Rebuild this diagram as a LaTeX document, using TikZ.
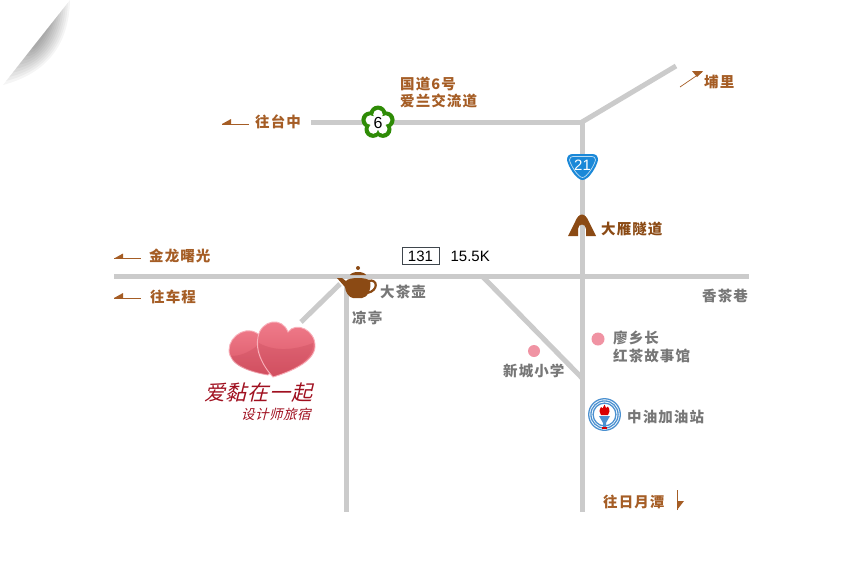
\documentclass[tikz,border=0pt]{standalone}
\usepackage{fontspec}
\setmainfont{Noto Sans CJK SC}[LetterSpace=7.5]
\newfontfamily\slantcjk[FakeSlant=0.25,LetterSpace=3.5]{Noto Sans CJK SC}
\newfontfamily\latinfont{Liberation Sans}
\usetikzlibrary{positioning}
\definecolor{roadgray}{HTML}{CBCBCB}
\definecolor{labelbrown}{HTML}{A55D25}
\definecolor{darkbrown}{HTML}{8B4A14}
\definecolor{labelgray}{HTML}{777777}
\definecolor{dotpink}{HTML}{F093A3}
\definecolor{shieldblue}{HTML}{1A88D8}
\definecolor{ringblue}{HTML}{4A90D0}
\definecolor{flowergreen}{HTML}{2E8B06}
\definecolor{heartred}{HTML}{A01020}
\definecolor{heartrim}{HTML}{F8B0BA}
\definecolor{heartlight}{HTML}{F27F8E}
\definecolor{heartdeep}{HTML}{D95565}
\definecolor{heartshade}{HTML}{B83A4C}
\tikzset{
  road/.style={line width=5pt, roadgray},
  pointer/.style={line width=0.7pt, labelbrown},
  pointertip/.style={fill=labelbrown},
  brownlabel/.style={anchor=west, inner sep=0pt, labelbrown, font=\fontsize{14.5}{14.5}\selectfont\bfseries},
  graylabel/.style={anchor=west, inner sep=0pt, labelgray, font=\fontsize{14.5}{14.5}\selectfont\bfseries},
  spotdot/.style={fill=dotpink},
  plainno/.style={inner sep=0pt, font=\latinfont\fontsize{15}{15}\selectfont},
  heartbody/.style={draw=heartrim, line width=0.9pt, top color=heartlight, bottom color=heartdeep},
  heartgloss/.style={fill=heartshade, opacity=0.22},
}
\begin{document}
\begin{tikzpicture}[x=1pt, y=-1pt]
\useasboundingbox (0, 0) rectangle (851, 560);

\foreach \k in {0, ..., 9}
  \fill [black, opacity=0.04] ({70-\k*2.2}, {\k*2.8}) .. controls ({47.7-\k*0.6+(27-\k*2.6)*0.79}, {28.3+\k*0.6+(27-\k*2.6)*0.62})
    and ({25.3+\k*0.6+(27-\k*2.6)*0.79}, {56.7-\k*0.6+(27-\k*2.6)*0.62}) .. ({3+\k*3.2}, {85-\k*4.1}) -- cycle;

\coordinate (top_w) at (311, 122);
\coordinate (top_e) at (582, 122);
\coordinate (puli_end) at (676, 66);
\coordinate (main_s) at (582, 512);
\coordinate (mid_w) at (114, 276);
\coordinate (mid_e) at (749, 276);
\coordinate (side_n) at (346, 282);
\coordinate (side_s) at (346, 512);
\coordinate (inn_a) at (340, 284);
\coordinate (inn_b) at (301, 322);
\coordinate (cut_a) at (483, 277);
\coordinate (cut_b) at (582, 378);

\draw [road] (top_w) -- (top_e) -- (main_s);
\draw [road] (top_e) -- (puli_end);
\draw [road] (mid_w) -- (mid_e);
\draw [road] (side_n) -- (side_s);
\draw [road] (inn_a) -- (inn_b);
\draw [road] (cut_a) -- (cut_b);

\coordinate (flower) at (378, 122.5);
\foreach \a in {-90, -18, 54, 126, 198}
  \fill [flowergreen] (flower) ++(\a:8.5) circle [radius=8.5pt];
\foreach \a in {-90, -18, 54, 126, 198}
  \fill [white] (flower) ++(\a:8) circle [radius=4.8pt];
\fill [white] (flower) circle [radius=7.8pt];
\node [inner sep=0pt, font=\latinfont\fontsize{16}{16}\selectfont] (flower_no) at (flower) {6};

\fill [shieldblue] (567, 160) .. controls (567, 156) and (569, 154) .. (573, 154) -- (592, 154) .. controls (596, 154) and (598, 156) .. (598, 160)
  .. controls (597, 166) and (589, 180) .. (582.5, 180) .. controls (576, 180) and (568, 166) .. (567, 160) -- cycle;
\draw [white!70!shieldblue, line width=0.7pt] (569.5, 160) .. controls (569.5, 157.5) and (571, 156.5) .. (573, 156.5) -- (592, 156.5) .. controls (594, 156.5) and (595.5, 157.5) .. (595.5, 160)
  .. controls (594.5, 165) and (587, 177.5) .. (582.5, 177.5) .. controls (578, 177.5) and (570.5, 165) .. (569.5, 160) -- cycle;
\node [plainno, white] (shield_no) at (582.5, 165) {21};

\fill [darkbrown] (568, 236) -- (575, 222) .. controls (579, 212) and (585, 212) .. (589, 222) -- (596, 236) -- (586, 236)
  -- (586, 229) .. controls (586, 223) and (578, 223) .. (578, 229) -- (578, 236) -- cycle;

\fill [darkbrown] (358, 268) circle [radius=2pt];
\fill [darkbrown] (350, 275) .. controls (352, 271) and (364, 271) .. (366, 275) -- cycle;
\fill [darkbrown] (337, 278) -- (342, 278) -- (346, 281) .. controls (348, 277) and (368, 277) .. (370, 281)
  .. controls (372, 289) and (367, 298) .. (362, 298) -- (353, 298) .. controls (349, 298) and (345, 291) .. (345, 287) -- cycle;
\draw [darkbrown, line width=2.2pt] (368, 281) .. controls (378, 278) and (379, 291) .. (367, 293);

\shade [heartbody] (268, 375) .. controls (250, 372) and (229, 365) .. (229, 350)
  .. controls (229, 335) and (250, 322) .. (262, 338) -- (285, 360) -- cycle;
\fill [heartgloss] (268, 375) .. controls (250, 372) and (232, 366) .. (231, 356) .. controls (243, 356) and (252, 350) .. (258, 345) -- cycle;
\shade [heartbody] (273, 377) .. controls (262, 365) and (255, 350) .. (258, 337)
  .. controls (261, 320) and (282, 316) .. (288, 332) .. controls (296, 321) and (316, 330) .. (315, 347)
  .. controls (314, 362) and (290, 372) .. (273, 377) -- cycle;
\fill [heartgloss] (273, 376) .. controls (263, 365) and (258, 352) .. (259, 343) .. controls (275, 352) and (295, 350) .. (313, 343)
  .. controls (314, 360) and (290, 371) .. (273, 376) -- cycle;

\node [anchor=west, inner sep=0pt, heartred, font=\slantcjk\fontsize{21}{21}\selectfont] (inn_name) at (204, 393) {爱黏在一起};
\node [anchor=west, inner sep=0pt, heartred, font=\slantcjk\fontsize{13.5}{14}\selectfont] (inn_sub) at (241, 414) {设计师旅宿};

\coordinate (logo) at (604.5, 414.5);
\foreach \r in {15.8, 13.6, 11.4}
  \draw [ringblue, line width=1.3pt] (logo) circle [radius=\r pt];
\fill [red!85!black] (604.5, 404.5) -- (606, 408) -- (608, 406.5) .. controls (610, 410) and (610, 413) .. (608, 415) -- (601, 415)
  .. controls (599, 413) and (599, 410) .. (601, 407) -- (602.5, 408.5) -- cycle;
\fill [ringblue] (599, 416) -- (610, 416) -- (606, 423) -- (606, 427) -- (603, 427) -- (603, 423) -- cycle;
\fill [red!85!black] (602, 427) rectangle (607, 429);

\fill [spotdot] (534, 351) circle [radius=6pt];
\fill [spotdot] (598, 339) circle [radius=6.5pt];

\coordinate (tz_a) at (222, 124);
\coordinate (tz_b) at (249, 124);
\coordinate (jl_a) at (114, 258.5);
\coordinate (jl_b) at (141, 258.5);
\coordinate (cc_a) at (114, 298);
\coordinate (cc_b) at (141, 298);
\coordinate (pl_a) at (680, 87);
\coordinate (pl_b) at (702, 72);
\coordinate (ry_a) at (677.5, 490);
\coordinate (ry_b) at (677.5, 510);

\draw [pointer] (tz_a) -- (tz_b);
\draw [pointer] (jl_a) -- (jl_b);
\draw [pointer] (cc_a) -- (cc_b);
\draw [pointer] (pl_a) -- (pl_b);
\draw [pointer] (ry_a) -- (ry_b);
\fill [pointertip] (tz_a) -- ++(9, -5) -- ++(0, 5) -- cycle;
\fill [pointertip] (jl_a) -- ++(9, -5) -- ++(0, 5) -- cycle;
\fill [pointertip] (cc_a) -- ++(9, -5) -- ++(0, 5) -- cycle;
\fill [pointertip] (692, 71) -- (703, 71) -- (697, 77) -- cycle;
\fill [pointertip] (677, 501) -- (684, 501) -- (677, 510) -- cycle;

\node [brownlabel] (lb_taizhong) at (255, 122) {往台中};
\node [brownlabel] (lb_road6) at (400, 84) {国道6号};
\node [brownlabel] (lb_ailan) at (400, 101) {爱兰交流道};
\node [brownlabel] (lb_puli) at (704, 82) {埔里};
\node [brownlabel, darkbrown] (lb_tunnel) at (601, 229) {大雁隧道};
\node [brownlabel] (lb_jinlong) at (149, 256) {金龙曙光};
\node [brownlabel] (lb_checheng) at (150, 297) {往车程};
\node [brownlabel] (lb_sunmoon) at (603, 502) {往日月潭};

\node [plainno, draw=black!80!cyan, line width=0.8pt, minimum width=37pt, minimum height=17pt] (rt_131) at (420.5, 256) {131};
\node [plainno, right=11pt of rt_131] (rt_km) {15.5K};

\node [graylabel] (lb_teapot) at (380, 292) {大茶壶};
\node [graylabel] (lb_pavilion) at (352, 318) {凉亭};
\node [graylabel] (lb_lane) at (702, 296) {香茶巷};
\node [graylabel] (lb_school) at (503, 371) {新城小学};
\node [graylabel] (lb_liao) at (613, 338) {廖乡长};
\node [graylabel] (lb_museum) at (613, 356) {红茶故事馆};
\node [graylabel] (lb_station) at (627, 417) {中油加油站};
\end{tikzpicture}
\end{document}
